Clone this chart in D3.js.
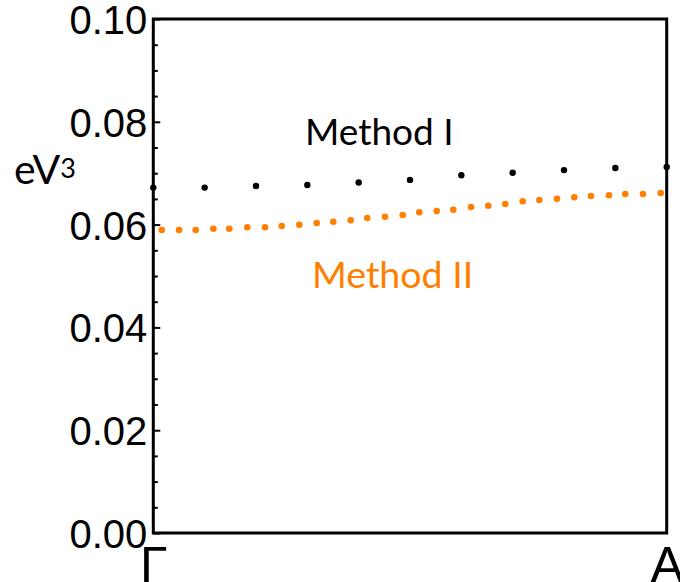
<!DOCTYPE html>
<html><head><meta charset="utf-8">
<script src="https://cdn.jsdelivr.net/npm/d3@7"></script>
<style>body{margin:0;background:#fff}</style>
</head><body>
<svg id="c" width="680" height="582"></svg>
<script>
// ---- data ----
const xTickValues = [0, 1];
const xTickLabels = ["Γ", "A"];
const yMajorTicks = [0, 0.02, 0.04, 0.06, 0.08, 0.10];
const yMinorTicks = [0.005,0.01,0.015,0.025,0.03,0.035,0.045,0.05,0.055,0.065,0.07,0.075,0.085,0.09,0.095];
const methodIx = [0, 0.1, 0.2, 0.3, 0.4, 0.5, 0.6, 0.7, 0.8, 0.9, 1.0];
const methodI  = [0.0672, 0.0672, 0.0675, 0.0677, 0.0682, 0.0687, 0.0696, 0.0701, 0.0706, 0.0710, 0.0712];
const methodIIx = [0.0164,0.0501,0.0826,0.1169,0.1480,0.1831,0.2176,0.2501,0.2844,0.3183,
                   0.3506,0.3845,0.4168,0.4513,0.4858,0.5181,0.5520,0.5843,0.6188,0.6525,
                   0.6856,0.7195,0.7519,0.7863,0.8200,0.8525,0.8876,0.9193,0.9538,0.9883];
const methodII = [0.05895,0.05895,0.05895,0.05920,0.05920,0.05947,0.05947,0.05973,0.05998,0.06031,
                  0.06056,0.06084,0.06128,0.06154,0.06187,0.06239,0.06265,0.06290,0.06342,0.06368,
                  0.06401,0.06453,0.06479,0.06504,0.06531,0.06556,0.06570,0.06595,0.06595,0.06615];
const seriesNames = ["Method I", "Method II"];
const unitLabel = "eV";
const unitSup = "3";

// ---- layout ----
const L = 153.3, R = 666.7, T = 19, B = 533;
const orange = "#FF8000";
const svg = d3.select("#c");
const x = d3.scaleLinear().domain([0, 1]).range([L, R]);
const y = d3.scaleLinear().domain([0, 0.10]).range([B, T]);

// minor ticks
svg.append("g").attr("transform", `translate(${L},0)`)
  .call(d3.axisLeft(y).tickValues(yMinorTicks).tickSize(-4.5).tickFormat(""))
  .call(g => g.select(".domain").remove())
  .call(g => g.selectAll("line").attr("stroke", "#000").attr("stroke-width", 2));

// major ticks + labels
svg.append("g").attr("transform", `translate(${L},0)`)
  .call(d3.axisLeft(y).tickValues(yMajorTicks).tickSize(-7).tickPadding(6).tickFormat(d3.format(".2f")))
  .call(g => g.select(".domain").remove())
  .call(g => g.selectAll("line").attr("stroke", "#000").attr("stroke-width", 2))
  .call(g => g.selectAll("text").attr("font-family", "Liberation Sans, Arial, sans-serif")
      .attr("font-size", 40).attr("fill", "#000").attr("dy", "0.36em"));

// x axis labels
svg.append("g").attr("transform", `translate(0,${B})`)
  .call(d3.axisBottom(x).tickValues(xTickValues).tickSize(0).tickPadding(0)
      .tickFormat((d, i) => xTickLabels[i]))
  .call(g => g.select(".domain").remove())
  .call(g => g.selectAll("text").attr("font-family", "Liberation Sans, Arial, sans-serif")
      .attr("font-size", 50).attr("fill", "#000").attr("dy", null).attr("y", 49));

// frame
svg.append("rect").attr("x", L).attr("y", T).attr("width", R - L).attr("height", B - T)
  .attr("fill", "none").attr("stroke", "#000").attr("stroke-width", 3);

// series
svg.append("g").selectAll("circle").data(methodII).join("circle")
  .attr("cx", (d, i) => x(methodIIx[i])).attr("cy", d => y(d)).attr("r", 3.3).attr("fill", orange);
svg.append("g").selectAll("circle").data(methodI).join("circle")
  .attr("cx", (d, i) => x(methodIx[i])).attr("cy", d => y(d)).attr("r", 3.2).attr("fill", "#000");

// labels
const lf = "Lato, 'Open Sans', sans-serif";
svg.append("text").attr("x", 305).attr("y", 145).attr("font-family", lf).attr("font-size", 37)
  .attr("fill", "#000").text(seriesNames[0]);
svg.append("text").attr("x", 312).attr("y", 288).attr("font-family", lf).attr("font-size", 37.5)
  .attr("fill", orange).text(seriesNames[1]);
const ul = svg.append("text").attr("x", 14).attr("y", 184).attr("font-family", lf).attr("font-size", 41).attr("fill", "#000");
ul.append("tspan").text(unitLabel);
ul.append("tspan").attr("font-size", 27).attr("dy", -6).text(unitSup);
</script>
</body></html>
